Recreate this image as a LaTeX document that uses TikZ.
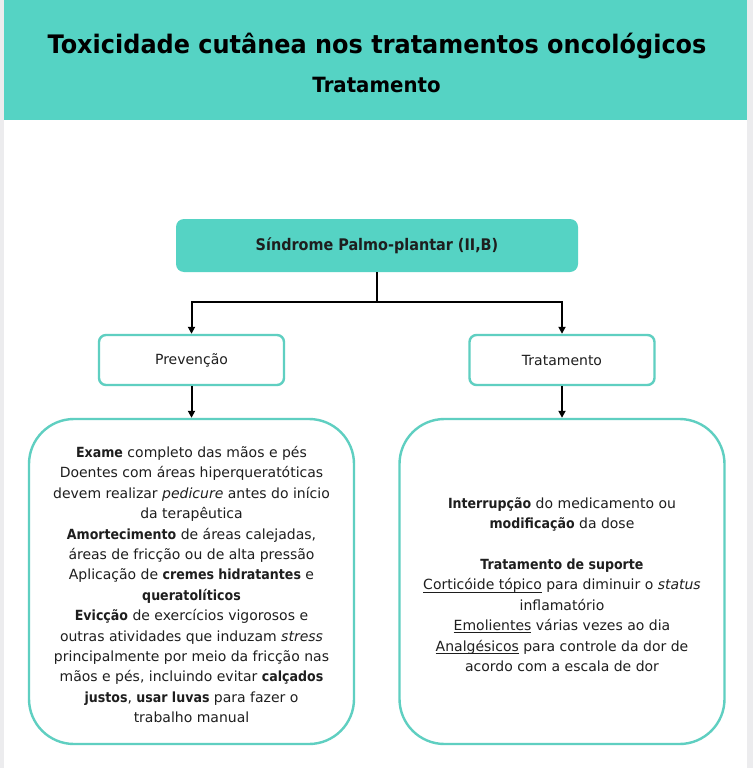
\documentclass[tikz,border=0pt]{standalone}
\usepackage{fontspec}
\setmainfont{DejaVu Sans}[BoldFeatures={FakeStretch=0.9}]
\newfontfamily\titlefont[FakeStretch=0.94]{DejaVu Sans}
\usetikzlibrary{arrows.meta}
\definecolor{tealfill}{HTML}{55D3C4}
\definecolor{tealedge}{HTML}{5FCFC1}
\definecolor{txt}{HTML}{1E1E1E}
\definecolor{sidegray}{HTML}{ECECEE}
\newcommand\undl[1]{\setbox0\hbox{#1}\rlap{\rule[-2.6pt]{\wd0}{0.8pt}}\box0\relax}
\tikzset{
  topbox/.style={draw=none, fill=tealfill, rounded corners=8pt, minimum width=402pt, minimum height=53pt, text=txt, font=\fontsize{16}{18}\selectfont\bfseries},
  smallbox/.style={draw=tealedge, line width=2.4pt, fill=white, rounded corners=7pt, minimum width=185pt, minimum height=50pt, text=txt, font=\fontsize{14}{16}\selectfont},
  bigbox/.style={draw=tealedge, line width=2.4pt, fill=white, rounded corners=45pt, minimum width=325pt, minimum height=325pt},
  bodytext/.style={text=txt, align=center, font=\fontsize{14}{20.4}\selectfont},
  conn/.style={line width=2pt, black, line join=miter},
  arr/.style={conn, -{Triangle[length=7pt,width=7pt]}}
}
\begin{document}
\begin{tikzpicture}[x=1pt,y=-1pt]
\useasboundingbox (0,0) rectangle (753,768);
\fill[white] (0,0) rectangle (753,768);
\fill[sidegray] (0,0) rectangle (4,768);
\fill[sidegray] (747,0) rectangle (753,768);
\fill[tealfill] (4,0) rectangle (747,120);
\node[text=black, font=\titlefont\fontsize{25.5}{28}\selectfont\bfseries] (title) at (377,46) {Toxicidade cutânea nos tratamentos oncológicos};
\node[text=black, font=\titlefont\fontsize{21}{24}\selectfont\bfseries] (sub) at (376.5,85) {Tratamento};
\node[topbox] (top) at (377,245.5) {Síndrome Palmo-plantar (II,B)};
\node[smallbox] (prev) at (191.5,360) {Prevenção};
\node[smallbox] (trat) at (562,360) {Tratamento};
\node[bigbox] (left) at (191.5,581.5) {};
\node[bigbox] (right) at (562,581.5) {};
\node[bodytext] (lefttext) at ([yshift=-3pt]left.center) {%
\textbf{Exame} completo das mãos e pés\\
Doentes com áreas hiperqueratóticas\\
devem realizar \textit{pedicure} antes do início\\
da terapêutica\\
\textbf{Amortecimento} de áreas calejadas,\\
áreas de fricção ou de alta pressão\\
Aplicação de \textbf{cremes hidratantes} e\\
\textbf{queratolíticos}\\
\textbf{Evicção} de exercícios vigorosos e\\
outras atividades que induzam \textit{stress}\\
principalmente por meio da fricção nas\\
mãos e pés, incluindo evitar \textbf{calçados}\\
\textbf{justos}, \textbf{usar luvas} para fazer o\\
trabalho manual};
\node[bodytext] (righttext) at ([yshift=-3pt]right.center) {%
\textbf{Interrupção} do medicamento ou\\
\textbf{modificação} da dose\\
~\\
\textbf{Tratamento de suporte}\\
\undl{Corticóide tópico} para diminuir o \textit{status}\\
inflamatório\\
\undl{Emolientes} várias vezes ao dia\\
\undl{Analgésicos} para controle da dor de\\
acordo com a escala de dor};
\coordinate (j) at (377,302);
\draw[conn] (top.south) -- (j);
\draw[arr] (j) -| (prev.north);
\draw[arr] (j) -| (trat.north);
\draw[arr] (prev.south) -- (left.north);
\draw[arr] (trat.south) -- (right.north);
\end{tikzpicture}
\end{document}
